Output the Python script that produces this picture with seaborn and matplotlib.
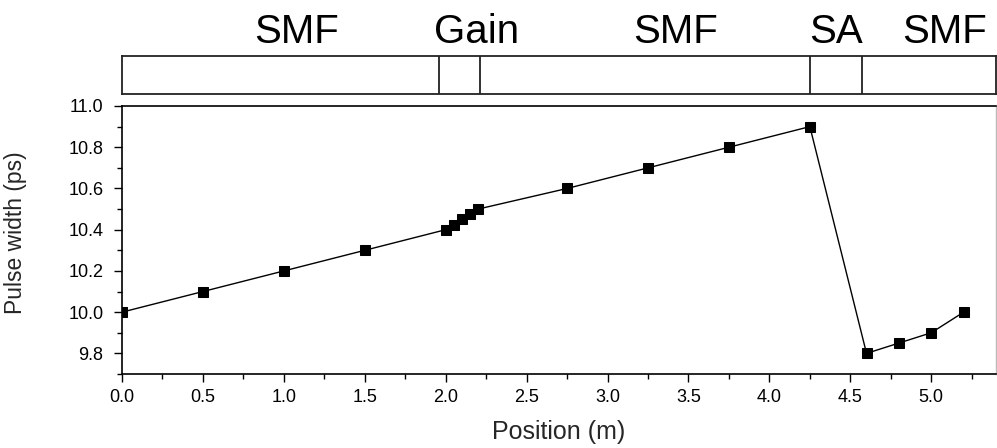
import matplotlib
matplotlib.use("Agg")
import matplotlib.pyplot as plt
import matplotlib.transforms as mtransforms
from matplotlib.ticker import MultipleLocator, FormatStrFormatter
import seaborn as sns
import pandas as pd

# Pulse width along the cavity
position_m = [0.0, 0.5, 1.0, 1.5, 2.0, 2.05, 2.1, 2.15, 2.2, 2.75, 3.25, 3.75,
              4.25, 4.6, 4.8, 5.0, 5.2]
pulse_width_ps = [10.0, 10.1, 10.2, 10.3, 10.4, 10.425, 10.45, 10.475, 10.5,
                  10.6, 10.7, 10.8, 10.9, 9.8, 9.85, 9.9, 10.0]

# Cavity sections shown in the strip above the plot
section_names = ["SMF", "Gain", "SMF", "SA", "SMF"]
section_label_x = [1.08, 2.19, 3.42, 4.41, 5.08]
section_boundaries = [1.96, 2.21, 4.25, 4.57]

df = pd.DataFrame({"Position (m)": position_m, "Pulse width (ps)": pulse_width_ps})

sns.set_theme(style="ticks")
plt.rcParams["font.family"] = ["Liberation Sans", "DejaVu Sans"]

fig = plt.figure(figsize=(9.97, 4.48), dpi=100)
ax = fig.add_axes([0.1224, 0.1652, 0.8766, 0.5982])
ax_top = fig.add_axes([0.1224, 0.790, 0.8766, 0.085])

sns.lineplot(data=df, x="Position (m)", y="Pulse width (ps)", ax=ax,
             color="black", linewidth=1.0, marker="s", markersize=7.5,
             markeredgecolor="black", markerfacecolor="black", sort=False)

ax.set_xlim(0, 5.4)
ax.set_ylim(9.7, 11.0)
ax.xaxis.set_major_locator(MultipleLocator(0.5))
ax.xaxis.set_minor_locator(MultipleLocator(0.25))
ax.yaxis.set_major_locator(MultipleLocator(0.2))
ax.yaxis.set_minor_locator(MultipleLocator(0.1))
ax.xaxis.set_major_formatter(FormatStrFormatter("%.1f"))
ax.yaxis.set_major_formatter(FormatStrFormatter("%.1f"))
ax.tick_params(which="major", direction="out", length=5.5, width=1.0,
               labelsize=13, color="black", labelcolor="black")
ax.tick_params(axis="y", which="major", pad=8)
ax.tick_params(axis="x", which="major", pad=5.5)
ax.tick_params(which="minor", direction="out", length=3.5, width=1.0, color="black")
ax.tick_params(top=False, right=False, which="both")
ax.set_xlabel("Position (m)", fontsize=18)
ax.set_ylabel("Pulse width (ps)", fontsize=16.5)
ax.xaxis.set_label_coords(0.5, -0.172)
ax.yaxis.set_label_coords(-0.109, 0.528)
for side in ["left", "bottom", "top"]:
    ax.spines[side].set_color("black")
    ax.spines[side].set_linewidth(1.2)
ax.spines["right"].set_color("#bbbbbb")
ax.spines["right"].set_linewidth(1.0)

# Section strip
ax_top.set_xlim(0, 5.4)
ax_top.set_ylim(0, 1)
ax_top.set_xticks([])
ax_top.set_yticks([])
for side in ax_top.spines.values():
    side.set_color("#222222")
    side.set_linewidth(1.3)
for b in section_boundaries:
    ax_top.axvline(b, color="#222222", linewidth=1.3)
trans = mtransforms.blended_transform_factory(ax_top.transData, ax_top.transAxes)
for name, xc in zip(section_names, section_label_x):
    ax_top.text(xc, 1.33, name, transform=trans, ha="center", va="baseline",
                fontsize=29, color="black")

fig.savefig("out.png", dpi=100)
